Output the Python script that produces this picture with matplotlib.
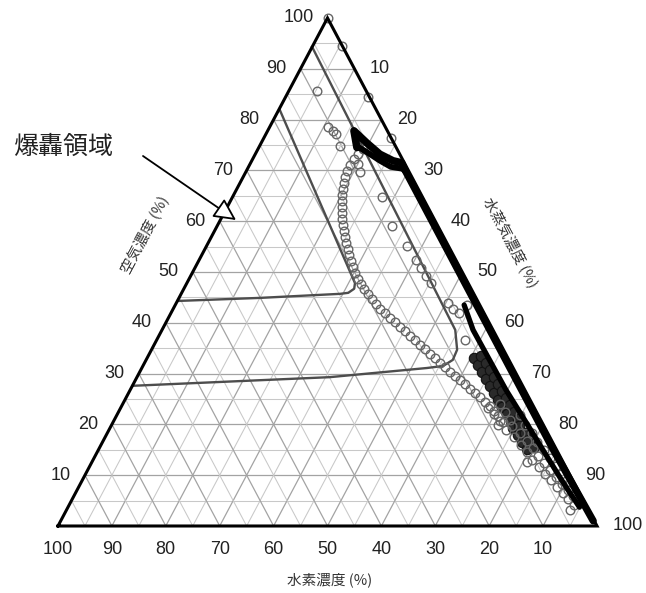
import matplotlib
matplotlib.use('Agg')
import matplotlib.pyplot as plt
import numpy as np

# ---------------- data (percent; hydrogen = 100 - air - steam) ----------------
tick_values = [10, 20, 30, 40, 50, 60, 70, 80, 90, 100]

# explosion (detonation) boundary, inner
det_air = [81.9, 47.8, 46.7, 45.9, 45.7, 44.9, 44.3]
det_steam = [0.2, 31.2, 31.6, 30.9, 29.5, 15.0, 0.1]
# explosion boundary, outer
fl_air = [94.3, 38.6, 34.7, 32.7, 31.5, 31.1, 29.3, 27.6]
fl_steam = [0.0, 54.4, 56.7, 56.9, 55.7, 52.9, 35.8, 0.1]

# grey circle chain
chain_air = [74.2, 73.2, 72.2, 71.1, 69.9, 68.7, 67.5, 66.3, 65.2, 64.0, 62.8, 61.6, 60.4, 59.3,
             58.1, 56.9, 55.7, 54.5, 53.3, 52.2, 51.0, 49.8, 48.6, 47.6, 46.7, 45.7, 44.7, 43.7,
             42.7, 41.9, 40.9, 40.2, 39.2, 38.4, 37.4, 36.6, 35.6, 34.8, 33.9, 33.1, 32.1, 31.3,
             30.3, 29.5, 28.7, 28.0, 27.0, 26.2, 25.4, 24.4, 23.6, 22.6, 21.7, 20.7]
chain_steam = [19.5, 19.0, 18.8, 18.6, 18.7, 18.9, 19.3, 19.7, 20.1, 20.7, 21.3, 21.9, 22.5, 23.3,
               24.0, 24.8, 25.6, 26.5, 27.3, 28.3, 29.2, 30.2, 31.4, 32.4, 33.4, 34.7, 35.9, 37.2,
               38.4, 39.7, 41.1, 42.4, 43.9, 45.2, 46.6, 47.9, 49.3, 50.7, 52.1, 53.4, 54.8, 56.1,
               57.6, 58.9, 60.2, 61.5, 63.0, 64.3, 65.6, 67.0, 68.3, 69.6, 70.8, 71.7]

# isolated grey circles
pts_air = [100.0, 94.4, 84.5, 76.4, 85.6, 78.5, 77.8, 77.2, 74.8, 71.3, 69.7, 64.8, 59.1, 55.1,
           52.4, 50.8, 49.2, 47.8, 43.9, 42.7, 41.9, 43.5, 36.6]
pts_steam = [0.0, 5.5, 15.3, 23.6, 5.2, 10.8, 12.1, 13.0, 14.9, 20.0, 21.2, 27.7, 32.4, 37.2,
             40.2, 42.0, 43.7, 45.3, 50.4, 51.9, 53.4, 54.1, 57.2]

# grey circle cluster near steam corner
cl_air = [23.2, 22.0, 24.0, 22.4, 20.9, 20.5, 18.9, 19.7, 17.5, 18.3,
          15.9, 16.7, 14.6, 15.4, 13.0, 13.8, 11.6, 12.4, 10.2, 11.0,
          9.1, 9.6, 7.7, 8.3, 6.5, 7.1, 5.3, 5.9, 4.1, 3.1,
          21.9, 19.9, 18.3, 16.5, 15.0, 13.4, 11.8, 10.2, 12.6, 19.9]
cl_steam = [68.2, 69.9, 70.0, 71.7, 73.4, 72.3, 73.7, 74.4, 75.9, 76.6,
            78.0, 78.7, 79.8, 80.5, 81.5, 82.2, 83.5, 84.0, 85.3, 85.8,
            87.0, 87.6, 88.8, 89.4, 90.5, 91.1, 92.0, 92.6, 93.7, 93.5,
            74.8, 76.6, 78.7, 80.7, 82.6, 84.5, 86.4, 88.2, 80.8, 71.7]

# dark circle blob
dk_air = [33.1, 31.7, 30.3, 28.9, 27.6, 26.2, 24.8, 23.4, 22.0, 20.7, 19.3, 17.9, 16.5, 15.2,
          33.5, 32.1, 30.7, 29.3, 28.0, 26.6, 25.2, 23.8, 22.4, 21.1, 19.7, 18.3, 16.9, 15.6]
dk_steam = [60.6, 62.1, 63.5, 64.9, 66.4, 67.8, 69.2, 70.7, 72.3, 73.7, 74.8, 76.3, 77.9, 79.5,
            61.8, 63.4, 64.8, 66.2, 67.7, 69.1, 70.5, 72.0, 73.4, 74.8, 75.7, 77.4, 79.0, 80.6]

# black lines
in_air = [43.5, 38.6, 32.7, 26.8, 20.9, 14.4, 8.5, 3.7]
in_steam = [53.6, 57.7, 63.7, 69.7, 76.1, 83.1, 89.5, 94.9]
edge_air = [70.1, 60.0, 45.0, 30.0, 15.0, 1.0]
edge_steam = [29.3, 39.4, 54.4, 69.4, 84.4, 98.8]
up_air = [74.5, 77.8, 75.4, 73.2, 71.9, 71.5, 70.1]
up_steam = [18.2, 16.0, 19.6, 23.1, 26.2, 28.0, 29.3]
lo_air = [74.8, 73.4, 71.9, 70.7, 70.3]
lo_steam = [18.0, 20.9, 23.8, 26.4, 28.9]


def tern(air, steam):
    air = np.asarray(air, float)
    steam = np.asarray(steam, float)
    return steam + air / 2.0, air


CJK = ['Noto Sans CJK JP', 'DejaVu Sans']
NUM = 'Liberation Sans'

fig = plt.figure(figsize=(6.46, 5.93), dpi=100)
ax = fig.add_axes([0, 0, 1, 1])
ax.set_xlim(-10.76, 109.09)
ax.set_ylim(-13.19, 103.54)
ax.axis('off')

# grid
for k in range(5, 100, 5):
    major = (k % 10 == 0)
    col = '#a3a3a3' if major else '#c8c8c8'
    lw = 0.9 if major else 0.75
    for a, s in (([k, k], [0, 100 - k]), ([0, 100 - k], [k, k]), ([0, 100 - k], [100 - k, 0])):
        x, y = tern(a, s)
        ax.plot(x, y, color=col, lw=lw, zorder=1)

# explosion boundaries
for a, s in ((det_air, det_steam), (fl_air, fl_steam)):
    x, y = tern(a, s)
    ax.plot(x, y, color='#4d4d4d', lw=1.7, zorder=2, solid_joinstyle='round')

# dark blob
x, y = tern(dk_air, dk_steam)
ax.plot(x, y, 'o', ms=7.5, mfc='#2a2a2a', mec='#111111', mew=0.8, zorder=3)

# grey circles
for a, s in ((chain_air, chain_steam), (pts_air, pts_steam), (cl_air, cl_steam)):
    x, y = tern(a, s)
    ax.plot(x, y, 'o', ms=6.2, mfc='none', mec='#666666', mew=1.0, zorder=4)

# black lines
for a, s, lw in ((in_air, in_steam, 3.8), (edge_air, edge_steam, 5.2),
                 (up_air, up_steam, 5.4), (lo_air, lo_steam, 4.2)):
    x, y = tern(a, s)
    ax.plot(x, y, color='black', lw=lw, zorder=5, solid_capstyle='round', solid_joinstyle='round')

# triangle edges
x, y = tern([0, 100, 0, 0], [0, 0, 100, 0])
ax.plot(x, y, color='black', lw=2.2, zorder=6, solid_joinstyle='miter')

# tick labels
for v in tick_values:
    x, y = tern(v, 0)
    ax.annotate(str(v), (x, y), xytext=(-10, 0), textcoords='offset points',
                ha='right', va='center', fontsize=13, family=NUM, color='#222222')
    x, y = tern(100 - v, v)
    ax.annotate(str(v), (x, y), xytext=(11, 0), textcoords='offset points',
                ha='left', va='center', fontsize=13, family=NUM, color='#222222')
    x, y = tern(0, 100 - v)
    ax.annotate(str(v), (x, y), xytext=(0, -17), textcoords='offset points',
                ha='center', va='center', fontsize=13, family=NUM, color='#222222')

# axis titles
fig.text(0.511, 0.022, '水素濃度 (%)', ha='center', va='center', fontsize=10.5,
         family=CJK, color='#333333')
fig.text(0.2245, 0.6037, '空気濃度 (%)', ha='center', va='center', fontsize=10.5,
         family=CJK, color='#333333', rotation=62.1, rotation_mode='anchor')
fig.text(0.789, 0.590, '水蒸気濃度 (%)', ha='center', va='center', fontsize=10.5,
         family=CJK, color='#333333', rotation=-62.1, rotation_mode='anchor')

# annotation
fig.text(13 / 646, 1 - 147 / 593, '爆轟領域', ha='left', va='center', fontsize=18,
         family=CJK, color='#222222')
ax.annotate('', xy=(236, 593 - 220), xycoords='figure pixels',
            xytext=(143, 593 - 156), textcoords='figure pixels',
            arrowprops=dict(arrowstyle='-|>,head_length=0.9,head_width=0.45',
                            fc='white', ec='black', lw=1.3, mutation_scale=15,
                            shrinkA=0, shrinkB=0), zorder=7)

fig.savefig('out.png', dpi=100)
